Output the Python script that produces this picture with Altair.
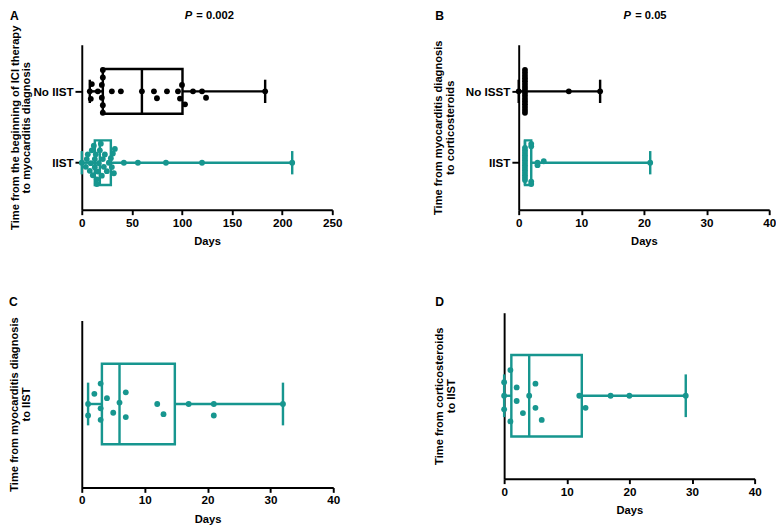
import math
import altair as alt
import pandas as pd

FONT = "Liberation Sans"
TEAL = "#17968f"
BLACK = "#000000"

# ---------------- data ----------------
# Panel A: time from beginning of ICI therapy to myocarditis diagnosis (days)
a_no_iist = [8, 9, 10, 16, 20, 20, 21, 21, 21, 21, 30, 39, 60, 72, 75, 85,
             96, 98, 100, 103, 111, 120, 124, 183]
a_iist = [0, 4, 5, 6, 8, 9, 10, 11, 12, 13, 13, 14, 15, 15, 16, 17, 18, 19,
          20, 21, 22, 23, 25, 27, 29, 30, 31, 32, 33, 42, 56, 84, 120, 210]
a_q1 = [21, 13]
a_median = [60, 18]
a_q3 = [100.5, 29]

# Panel B: time from myocarditis diagnosis to corticosteroids (days)
b_no_isst = [0] + [1] * 16 + [8, 13]
b_iist = [1] * 14 + [2] * 4 + [3, 3, 4, 21]
b_q1 = [1, 1]
b_median = [1, 1]
b_q3 = [1, 2]

# Panel C: time from myocarditis diagnosis to IIST (days)
c_iist = [1, 1, 2, 3, 3, 3, 4, 5, 6, 7, 7, 12, 13, 17, 21, 21, 32]
c_q1, c_median, c_q3 = 3.2, 6, 14.8

# Panel D: time from corticosteroids to IIST (days)
d_iist = [0, 0, 0, 1, 1, 2, 2, 3, 4, 5, 5, 6, 12, 13, 17, 20, 29]
d_q1, d_median, d_q3 = 1.15, 4, 12.4

x_ticks_a = [0, 50, 100, 150, 200, 250]
x_ticks_b = [0, 10, 20, 30, 40]


def swarm(values, px_per_x, d, H):
    """Simple beeswarm layout (vertical offsets in px)."""
    n = len(values)
    order = sorted(range(n), key=lambda i: values[i])
    placed = []
    offs = [0.0] * n
    for i in order:
        x = values[i] * px_per_x
        ivs = []
        for xj, yj in placed:
            dx = abs(x - xj)
            if dx < d:
                h = math.sqrt(d * d - dx * dx)
                ivs.append((yj - h, yj + h))
        cands = [0.0] + [e for iv in ivs for e in iv]
        cands.sort(key=lambda c: (abs(c), c))
        chosen = 0.0
        for c in cands:
            if all(not (lo + 1e-6 < c < hi - 1e-6) for lo, hi in ivs):
                chosen = c
                break
        offs[i] = chosen
        placed.append((x, chosen))
    m = max(abs(o) for o in offs) if offs else 0
    if m > H:
        offs = [o * H / m for o in offs]
    return offs


def panel(rows, xmax, xticks, width, height, ydom, ytitle, ylabel_expr,
          title_pad, ytick, letter, letter_xy, ptext, p_x, box_half, cap_half,
          sw_d, sw_H, top_gap=0):
    ppu = height / (ydom[1] - ydom[0])
    ppx = width / xmax
    pts, boxes, whisk, caps = [], [], [], []
    for rowpos, values, q1, med, q3, color in rows:
        offs = swarm(values, ppx, sw_d, sw_H)
        for v, o in zip(values, offs):
            pts.append(dict(x=v, y=rowpos + o / ppu, c=color))
        bh = box_half / ppu
        ch = cap_half / ppu
        boxes.append(dict(x=q1, x2=q3, m=med, y=rowpos - bh, y2=rowpos + bh, c=color))
        whisk.append(dict(x=min(values), x2=q1, y=rowpos, c=color))
        whisk.append(dict(x=q3, x2=max(values), y=rowpos, c=color))
        caps.append(dict(x=min(values), y=rowpos - ch, y2=rowpos + ch, c=color))
        caps.append(dict(x=max(values), y=rowpos - ch, y2=rowpos + ch, c=color))

    group_h = height + top_gap
    xs = alt.Scale(domain=[0, xmax], nice=False, zero=True)
    ys = alt.Scale(domain=ydom, nice=False, zero=False,
                   range=[group_h, top_gap])
    xaxis = alt.Axis(values=xticks, title="Days", grid=False, format="d",
                     tickSize=5, labelPadding=3, titlePadding=8,
                     labelFlush=False, labelOverlap=False)
    if ylabel_expr:
        yaxis = alt.Axis(values=[0, 1], labelExpr=ylabel_expr, title=ytitle,
                         grid=False, tickSize=ytick, labelPadding=2,
                         titlePadding=title_pad, labelFlush=False,
                         titleLineHeight=12)
    else:
        yaxis = alt.Axis(title=ytitle, grid=False, ticks=False, labels=False,
                         titlePadding=title_pad, titleLineHeight=12)

    def X(f):
        return alt.X(f, type="quantitative", scale=xs, axis=xaxis)

    def Y(f):
        return alt.Y(f, type="quantitative", scale=ys, axis=yaxis)

    col = alt.Color("c:N", scale=None)
    sw = 2.5
    whisk_l = alt.Chart(pd.DataFrame(whisk)).mark_rule(strokeWidth=sw).encode(
        x=X("x"), x2="x2", y=Y("y"), color=col)
    caps_l = alt.Chart(pd.DataFrame(caps)).mark_rule(strokeWidth=sw).encode(
        x=X("x"), y=Y("y"), y2="y2", color=col)
    box_l = alt.Chart(pd.DataFrame(boxes)).mark_rect(
        fillOpacity=0, strokeWidth=sw).encode(
        x=X("x"), x2="x2", y=Y("y"), y2="y2", stroke=col)
    med_l = alt.Chart(pd.DataFrame(boxes)).mark_rule(strokeWidth=sw).encode(
        x=X("m"), y=Y("y"), y2="y2", color=col)
    pts_l = alt.Chart(pd.DataFrame(pts)).mark_point(
        filled=True, size=36, opacity=1, shape="circle").encode(
        x=X("x"), y=Y("y"), color=col)

    letter_l = alt.Chart(pd.DataFrame({"t": [letter]})).mark_text(
        align="left", baseline="top", font=FONT, fontSize=12.5,
        fontWeight="bold", color=BLACK).encode(
        text="t:N", x=alt.value(letter_xy[0]), y=alt.value(letter_xy[1]))
    layers = [whisk_l, caps_l, box_l, med_l, pts_l, letter_l]
    if ptext:
        p1 = alt.Chart(pd.DataFrame({"t": ["P"]})).mark_text(
            align="left", baseline="middle", font=FONT, fontSize=11.5,
            fontWeight="bold", fontStyle="italic", color=BLACK).encode(
            text="t:N", x=alt.value(p_x), y=alt.value(-30))
        p2 = alt.Chart(pd.DataFrame({"t": [ptext]})).mark_text(
            align="left", baseline="middle", font=FONT, fontSize=11.5,
            fontWeight="bold", color=BLACK).encode(
            text="t:N", x=alt.value(p_x + 12), y=alt.value(-30))
        layers += [p1, p2]
    return alt.layer(*layers).properties(width=width, height=group_h)


AB_DOM = [-0.66, 1.653]

chart_a = panel(
    rows=[(1, a_no_iist, a_q1[0], a_median[0], a_q3[0], BLACK),
          (0, a_iist, a_q1[1], a_median[1], a_q3[1], TEAL)],
    xmax=250, xticks=x_ticks_a, width=258, height=170, ydom=AB_DOM,
    ytitle=["Time from the beginning of ICI therapy", "to myocarditis diagnosis"],
    ylabel_expr="datum.value == 1 ? 'No IIST' : 'IIST'", title_pad=1, ytick=7,
    letter="A", letter_xy=(-74, -35), ptext="= 0.002", p_x=106,
    box_half=23, cap_half=12, sw_d=8, sw_H=22)

chart_b = panel(
    rows=[(1, b_no_isst, b_q1[0], b_median[0], b_q3[0], BLACK),
          (0, b_iist, b_q1[1], b_median[1], b_q3[1], TEAL)],
    xmax=40, xticks=x_ticks_b, width=258, height=170, ydom=AB_DOM,
    ytitle=["Time from myocarditis diagnosis", "to corticosteroids"],
    ylabel_expr="datum.value == 1 ? 'No ISST' : 'IIST'", title_pad=10, ytick=7,
    letter="B", letter_xy=(-86, -35), ptext="= 0.05", p_x=108,
    box_half=23, cap_half=12, sw_d=8, sw_H=22)

chart_c = panel(
    rows=[(0, c_iist, c_q1, c_median, c_q3, TEAL)],
    xmax=40, xticks=x_ticks_b, width=259, height=172, ydom=[-1, 1],
    ytitle=["Time from myocarditis diagnosis", "to IIST"],
    ylabel_expr=None, title_pad=52, ytick=0,
    letter="C", letter_xy=(-75, -16.5), ptext=None, p_x=0,
    box_half=41.5, cap_half=22, sw_d=14, sw_H=21, top_gap=8)

chart_d = panel(
    rows=[(0, d_iist, d_q1, d_median, d_q3, TEAL)],
    xmax=40, xticks=x_ticks_b, width=258, height=171, ydom=[-1, 1],
    ytitle=["Time from corticosteroids", "to IIST"],
    ylabel_expr=None, title_pad=49, ytick=0,
    letter="D", letter_xy=(-71, -16.5), ptext=None, p_x=0,
    box_half=42, cap_half=22, sw_d=14, sw_H=28)

top = alt.hconcat(chart_a, chart_b, spacing=92)
bottom = alt.hconcat(chart_c, chart_d, spacing=97)

chart = alt.vconcat(top, bottom, spacing=50).properties(
    padding={"left": 1, "top": -6, "right": 0, "bottom": 0}
).configure_view(
    stroke=None
).configure_axis(
    domainColor=BLACK, domainWidth=2, tickColor=BLACK, tickWidth=2,
    labelFont=FONT, labelFontSize=12, labelFontWeight="bold", labelColor=BLACK,
    titleFont=FONT, titleFontSize=11.5, titleFontWeight="bold", titleColor=BLACK,
    grid=False
)

chart.save("out.html", embed_options={"renderer": "svg", "actions": False})
